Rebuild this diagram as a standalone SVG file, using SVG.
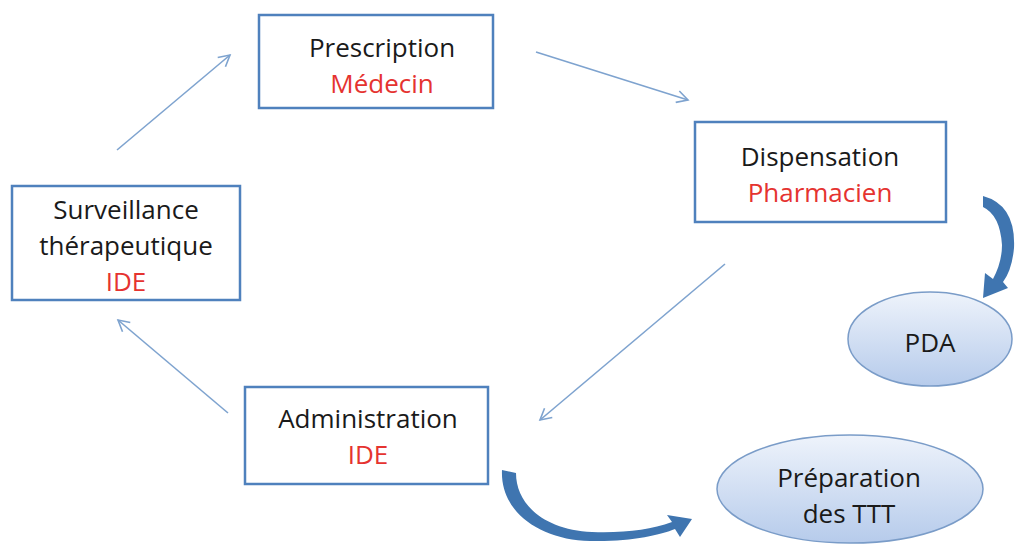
<svg xmlns="http://www.w3.org/2000/svg" width="1016" height="546" viewBox="0 0 1016 546">
<style>
.box{fill:#fff;stroke:#4f81bd;stroke-width:2.5}
.ell{fill:url(#g);stroke:#7a9cc8;stroke-width:1.5}
.t{font-family:"Open Sans","Noto Sans",sans-serif;font-size:26px;fill:#1a1a1a;text-anchor:middle}
.r{fill:#e53330}
.ln{stroke:#7ea3cf;stroke-width:1.6;fill:none;marker-end:url(#ah)}
.big{fill:#3f75b0}
</style>
<defs>
<marker id="ah" markerWidth="14" markerHeight="14" refX="12" refY="7" orient="auto" markerUnits="userSpaceOnUse">
<path d="M1,1 L12,7 L1,13" fill="none" stroke="#7ea3cf" stroke-width="1.6"/>
</marker>
<linearGradient id="g" x1="0" y1="0" x2="0" y2="1">
<stop offset="0" stop-color="#eef3fb"/>
<stop offset="1" stop-color="#b6cbeb"/>
</linearGradient>
</defs>
<g id="connectors">
<line class="ln" x1="117" y1="150" x2="230" y2="55"/>
<line class="ln" x1="536" y1="52" x2="688" y2="100"/>
<line class="ln" x1="725" y1="264" x2="540" y2="420"/>
<line class="ln" x1="228" y1="413" x2="118" y2="320"/>
<path class="big" d="M983,196 Q1016,205 1014,248 Q1012,270 1003,282 L1008,288 L983,298 L985,273 L993,279 Q1002,262 1002,245 Q1000,215 983,207 Z"/>
<path class="big" d="M502,470 C500,512 540,540 590,541 C630,542 660,535 675,529 L680,537 L692,519 L667,515 L672,522 C650,530 625,533 592,532 C545,530 516,505 516,473 Z"/>
</g>
<g id="prescription">
<rect class="box" x="259" y="15" width="234" height="93"/>
<text class="t" x="382" y="57">Prescription</text>
<text class="t r" x="382" y="93">Médecin</text>
</g>
<g id="dispensation">
<rect class="box" x="695" y="122" width="251" height="100"/>
<text class="t" x="820" y="166">Dispensation</text>
<text class="t r" x="820" y="202">Pharmacien</text>
</g>
<g id="surveillance">
<rect class="box" x="12" y="186" width="228" height="114"/>
<text class="t" x="126" y="219">Surveillance</text>
<text class="t" x="126" y="255">thérapeutique</text>
<text class="t r" x="126" y="291">IDE</text>
</g>
<g id="administration">
<rect class="box" x="245" y="387" width="243" height="97"/>
<text class="t" x="368" y="428">Administration</text>
<text class="t r" x="368" y="464">IDE</text>
</g>
<g id="pda">
<ellipse class="ell" cx="930" cy="339" rx="82" ry="47"/>
<text class="t" x="930" y="352">PDA</text>
</g>
<g id="preparation">
<ellipse class="ell" cx="850" cy="489" rx="133" ry="54"/>
<text class="t" x="849" y="487">Préparation</text>
<text class="t" x="849" y="523">des TTT</text>
</g>
</svg>
